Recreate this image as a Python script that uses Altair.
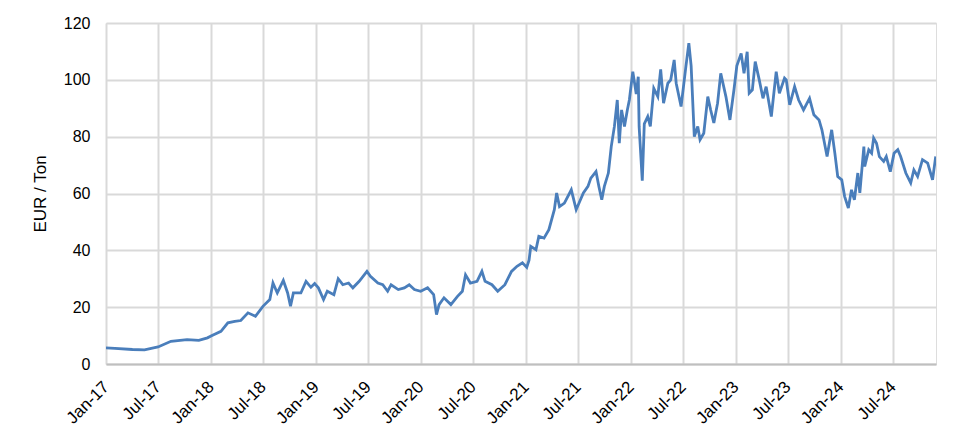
import altair as alt
import pandas as pd

dates = [
    "2017-01-01", "2017-02-01", "2017-04-03", "2017-05-15", "2017-07-01", "2017-08-15",
    "2017-10-10", "2017-11-20", "2017-12-20", "2018-01-05", "2018-02-05", "2018-03-01",
    "2018-03-25", "2018-04-15", "2018-05-10", "2018-06-05", "2018-07-01", "2018-07-25",
    "2018-08-05", "2018-08-20", "2018-09-10", "2018-09-25", "2018-10-05", "2018-10-15",
    "2018-11-10", "2018-11-28", "2018-12-15", "2018-12-28", "2019-01-10", "2019-01-28",
    "2019-02-10", "2019-03-05", "2019-03-20", "2019-04-05", "2019-04-25", "2019-05-10",
    "2019-06-01", "2019-06-28", "2019-07-10", "2019-08-05", "2019-08-22", "2019-09-08",
    "2019-09-20", "2019-10-15", "2019-11-05", "2019-11-22", "2019-12-10", "2020-01-01",
    "2020-01-25", "2020-02-15", "2020-02-25", "2020-03-05", "2020-03-22", "2020-04-15",
    "2020-05-08", "2020-05-25", "2020-06-05", "2020-06-22", "2020-07-15", "2020-08-01",
    "2020-08-12", "2020-09-05", "2020-09-25", "2020-10-20", "2020-11-12", "2020-12-01",
    "2020-12-20", "2021-01-04", "2021-01-12", "2021-01-18", "2021-02-05", "2021-02-15",
    "2021-03-05", "2021-03-22", "2021-04-10", "2021-04-18", "2021-04-28", "2021-05-15",
    "2021-06-08", "2021-06-25", "2021-07-20", "2021-08-05", "2021-08-15", "2021-09-02",
    "2021-09-12", "2021-09-22", "2021-10-01", "2021-10-15", "2021-10-25", "2021-11-05",
    "2021-11-15", "2021-11-22", "2021-11-30", "2021-12-10", "2021-12-20", "2021-12-27",
    "2022-01-08", "2022-01-20", "2022-01-27", "2022-01-30", "2022-02-10", "2022-02-17",
    "2022-03-01", "2022-03-10", "2022-03-22", "2022-04-05", "2022-04-15", "2022-04-25",
    "2022-05-10", "2022-05-20", "2022-06-01", "2022-06-08", "2022-06-25", "2022-07-12",
    "2022-07-22", "2022-07-30", "2022-08-10", "2022-08-22", "2022-08-30", "2022-09-12",
    "2022-09-26", "2022-10-06", "2022-10-17", "2022-10-30", "2022-11-10", "2022-11-28",
    "2022-12-12", "2022-12-26", "2023-01-05", "2023-01-20", "2023-01-30", "2023-02-10",
    "2023-02-17", "2023-02-28", "2023-03-10", "2023-03-24", "2023-04-06", "2023-04-17",
    "2023-05-05", "2023-05-22", "2023-06-02", "2023-06-20", "2023-06-26", "2023-07-08",
    "2023-07-25", "2023-08-08", "2023-08-25", "2023-09-15", "2023-09-30", "2023-10-18",
    "2023-10-28", "2023-11-15", "2023-12-01", "2023-12-12", "2023-12-22", "2024-01-05",
    "2024-01-15", "2024-01-28", "2024-02-08", "2024-02-18", "2024-03-01", "2024-03-08",
    "2024-03-22", "2024-03-25", "2024-04-08", "2024-04-18", "2024-04-25", "2024-05-05",
    "2024-05-15", "2024-05-30", "2024-06-08", "2024-06-22", "2024-07-05", "2024-07-18",
    "2024-07-28", "2024-08-15", "2024-09-01", "2024-09-12", "2024-09-25", "2024-10-12",
    "2024-10-30", "2024-11-16", "2024-11-27",
]

prices = [
    5.7, 5.5, 5.1, 5.0, 6.0, 8.0,
    8.6, 8.3, 9.2, 10.0, 11.5, 14.5,
    15.0, 15.3, 18.0, 16.8, 20.3, 22.7,
    28.5, 25.0, 29.4, 25.0, 20.3, 25.0,
    25.0, 29.1, 27.0, 28.3, 26.8, 22.7,
    25.6, 24.4, 30.0, 27.9, 28.5, 26.8,
    29.1, 32.6, 30.9, 28.5, 27.9, 25.6,
    27.9, 26.2, 26.8, 27.9, 26.2, 25.6,
    26.8, 24.4, 17.4, 20.9, 23.3, 20.9,
    23.8, 25.6, 31.4, 28.5, 29.1, 32.6,
    29.1, 27.9, 25.6, 27.9, 32.6, 34.4,
    35.6, 34.0, 36.5, 41.4, 40.2, 44.9,
    44.3, 47.3, 54.3, 60.2, 55.4, 56.6,
    61.3, 54.3, 60.2, 62.5, 65.4, 67.7,
    62.5, 57.8, 62.5, 67.2, 76.5, 83.6,
    92.9, 77.7, 89.4, 83.6, 89.4, 92.9,
    102.9, 95.0, 101.1, 83.6, 64.5, 84.5,
    87.1, 83.6, 97.0, 94.1, 103.7, 91.8,
    98.8, 100.0, 107.0, 98.8, 90.6, 104.9,
    112.9, 104.9, 80.0, 83.6, 78.9, 81.2,
    94.1, 89.4, 84.8, 91.8, 102.3, 94.1,
    85.9, 96.5, 104.9, 109.3, 102.3, 109.9,
    95.3, 96.5, 106.4, 100.0, 93.5, 97.6,
    87.1, 102.9, 95.3, 100.6, 100.0, 91.2,
    97.6, 92.9, 89.4, 93.5, 87.7, 85.9,
    82.4, 73.0, 82.4, 74.2, 66.0, 64.8,
    59.0, 54.9, 61.3, 57.8, 67.2, 60.2,
    76.5, 69.5, 75.4, 74.2, 79.5, 77.7,
    73.0, 71.3, 73.0, 67.7, 74.2, 75.4,
    73.0, 67.2, 63.7, 68.3, 66.0, 71.9,
    70.7, 64.8, 73.0,
]

tick_dates = [
    "2017-01-01", "2017-07-01", "2018-01-01", "2018-07-01", "2019-01-01", "2019-07-01",
    "2020-01-01", "2020-07-01", "2021-01-01", "2021-07-01", "2022-01-01", "2022-07-01",
    "2023-01-01", "2023-07-01", "2024-01-01", "2024-07-01",
]
y_ticks = [0, 20, 40, 60, 80, 100, 120]
x_domain = ["2017-01-01", "2024-11-28"]

df = pd.DataFrame({"date": dates, "price": prices})


def dt(s):
    y, m, d = (int(p) for p in s.split("-"))
    return alt.DateTime(year=y, month=m, date=d, utc=True)


FONT = "Liberation Sans"

chart = (
    alt.Chart(df)
    .mark_line(color="#4a7ebb", strokeWidth=2.8, clip=True)
    .encode(
        x=alt.X(
            "date:T",
            scale=alt.Scale(type="utc", domain=[dt(s) for s in x_domain], nice=False),
            axis=alt.Axis(
                values=[dt(s) for s in tick_dates],
                format="%b-%y",
                labelAngle=-45,
                labelAlign="right",
                labelBaseline="middle",
                labelPadding=20,
                labelFont=FONT,
                labelFontSize=17,
                labelColor="#000000",
                ticks=False,
                domainColor="#bfbfbf",
                domainWidth=2,
                gridColor="#d9d9d9",
                gridWidth=2,
                title=None,
            ),
        ),
        y=alt.Y(
            "price:Q",
            scale=alt.Scale(domain=[0, 120], nice=False),
            axis=alt.Axis(
                values=y_ticks,
                labelFont=FONT,
                labelFontSize=16,
                labelColor="#000000",
                labelPadding=16,
                ticks=False,
                domain=False,
                gridColor="#d9d9d9",
                gridWidth=2,
                title="EUR / Ton",
                titleFont=FONT,
                titleFontSize=17,
                titleFontWeight="normal",
                titleColor="#000000",
                titlePadding=14,
            ),
        ),
    )
    .properties(
        width=830,
        height=341,
        autosize=alt.AutoSizeParams(type="none"),
        padding={"left": 98, "top": 15, "right": 20, "bottom": 66},
    )
    .configure_view(stroke=None)
    .configure(background="white")
)

chart.save("out.html", embed_options={"renderer": "svg", "actions": False})
